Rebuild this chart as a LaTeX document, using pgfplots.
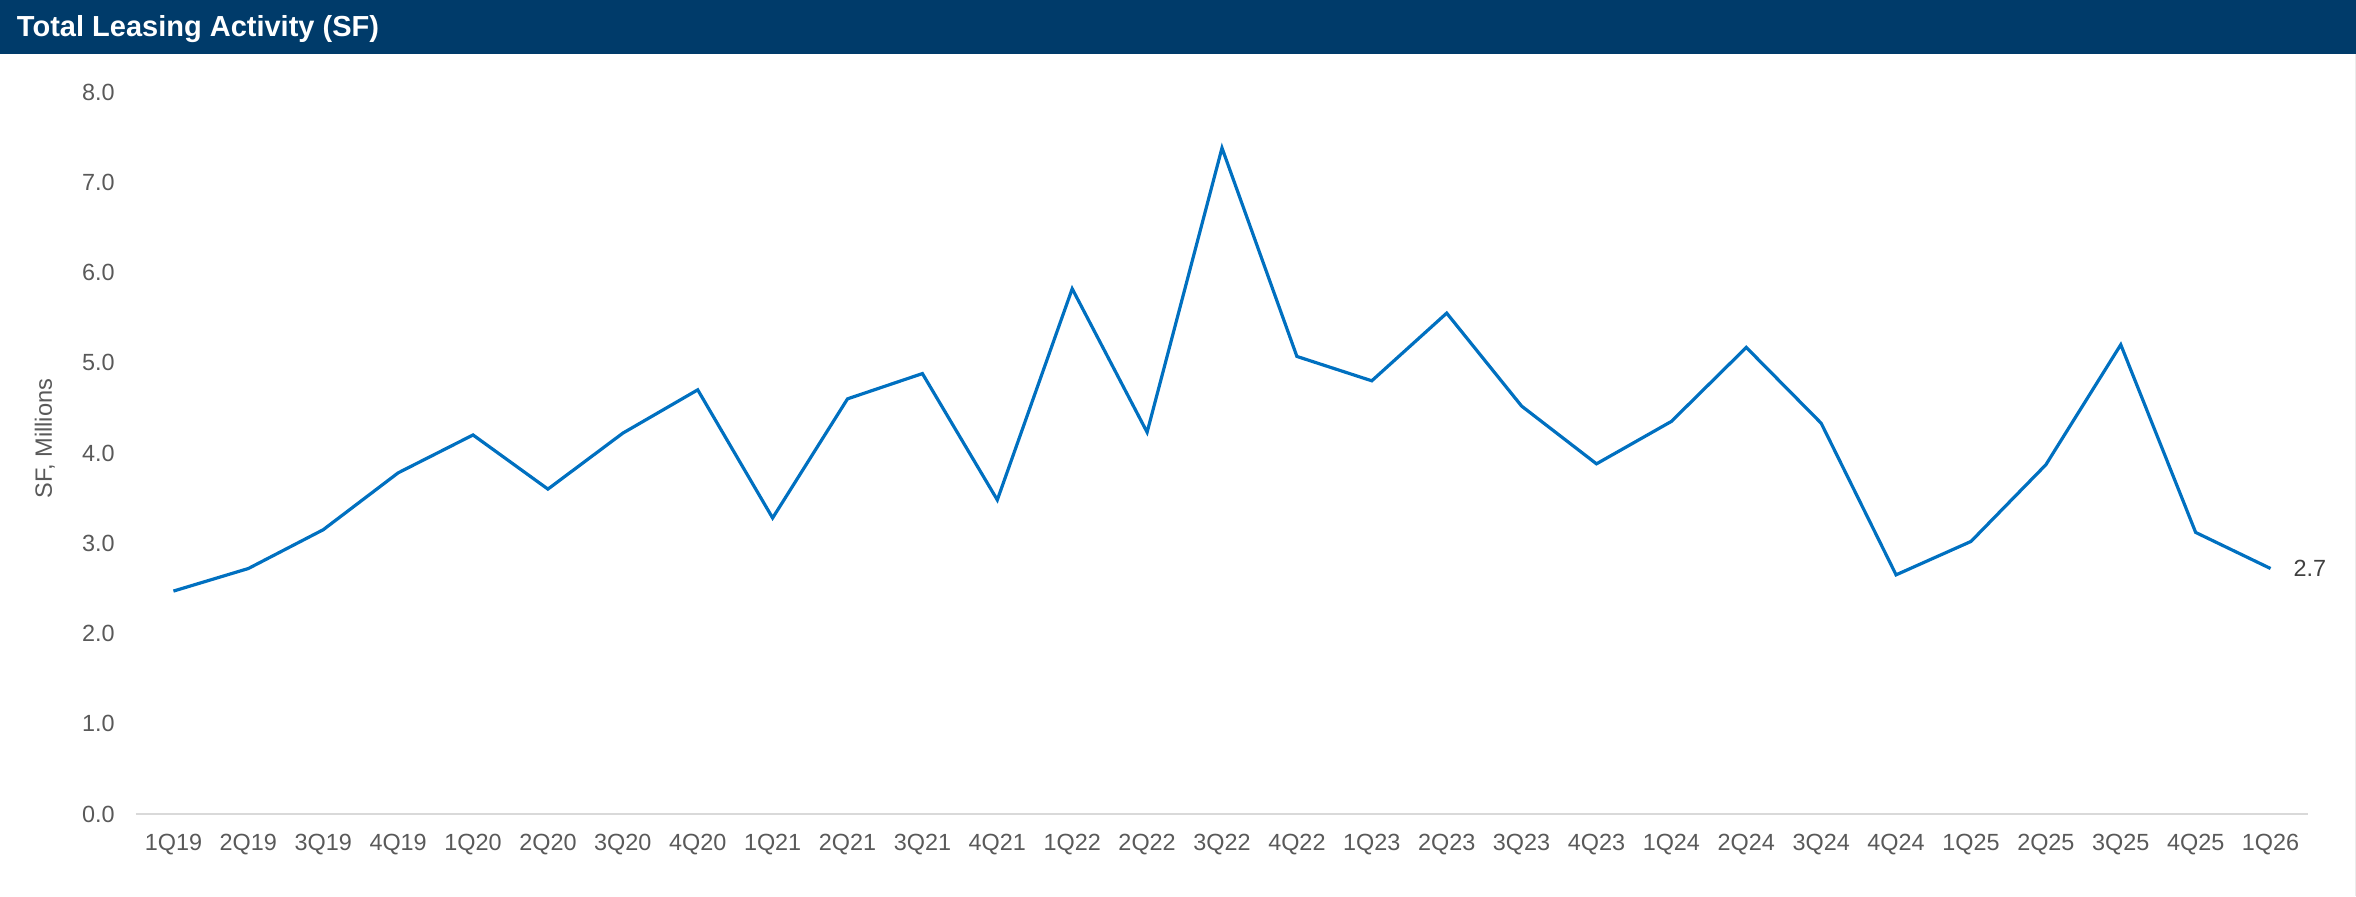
\documentclass[border=0pt]{standalone}
\usepackage{fontspec}
\setmainfont{Liberation Sans}
\usepackage{pgfplots}
\pgfplotsset{compat=1.18}
\definecolor{titlebar}{HTML}{003B6A}
\definecolor{serie}{HTML}{0070C0}
\definecolor{ticktext}{HTML}{595959}
\definecolor{axisgray}{HTML}{D9D9D9}
\begin{document}
\begin{tikzpicture}[x=1pt,y=1pt]
\path[use as bounding box] (0,0) rectangle (1178,448);
\fill[titlebar] (0,420.8) rectangle (1178,448);
\draw[black!8, line width=0.6pt] (1177.6,0) -- (1177.6,420.8);
\node[anchor=base west, text=white, inner sep=0pt, font=\fontsize{14.5}{17}\selectfont\bfseries] at (8.3,429.7) {Total Leasing Activity (SF)};
\begin{axis}[
  at={(68pt,41pt)}, anchor=south west, scale only axis,
  width=1086pt, height=361pt,
  xmin=-0.5, xmax=28.5, ymin=0, ymax=8,
  xtick={0,...,28},
  xticklabels={1Q19,2Q19,3Q19,4Q19,1Q20,2Q20,3Q20,4Q20,1Q21,2Q21,3Q21,4Q21,1Q22,2Q22,3Q22,4Q22,1Q23,2Q23,3Q23,4Q23,1Q24,2Q24,3Q24,4Q24,1Q25,2Q25,3Q25,4Q25,1Q26},
  ytick={0,1,...,8},
  yticklabel={\pgfmathprintnumber[fixed,fixed zerofill,precision=1]{\tick}},
  /pgf/number format/assume math mode=true,
  major tick length=0pt,
  axis x line*=bottom, axis y line*=left,
  x axis line style={axisgray, line width=1pt, -},
  y axis line style={draw=none},
  tick label style={text=ticktext, font=\fontsize{11.7}{14}\selectfont},
  yticklabel style={xshift=-7.1pt},
  xticklabel style={yshift=-6.4pt},
  ylabel={SF, Millions},
  ylabel style={at={(axis description cs:-0.042,0.52)}, anchor=center, text=ticktext, font=\fontsize{11.8}{14}\selectfont},
  clip=false,
]
\addplot[serie, line width=1.6pt, line join=miter] coordinates {
(0,2.47) (1,2.72) (2,3.15) (3,3.78) (4,4.20) (5,3.60) (6,4.22) (7,4.70)
(8,3.28) (9,4.60) (10,4.88) (11,3.48) (12,5.82) (13,4.23) (14,7.38) (15,5.07)
(16,4.80) (17,5.55) (18,4.52) (19,3.88) (20,4.35) (21,5.17) (22,4.33) (23,2.65)
(24,3.02) (25,3.87) (26,5.20) (27,3.12) (28,2.72)
};
\node[anchor=west, text=black!75, font=\fontsize{11.7}{14}\selectfont, inner sep=0pt, xshift=11.3pt] at (axis cs:28,2.72) {2.7};
\end{axis}
\end{tikzpicture}
\end{document}
